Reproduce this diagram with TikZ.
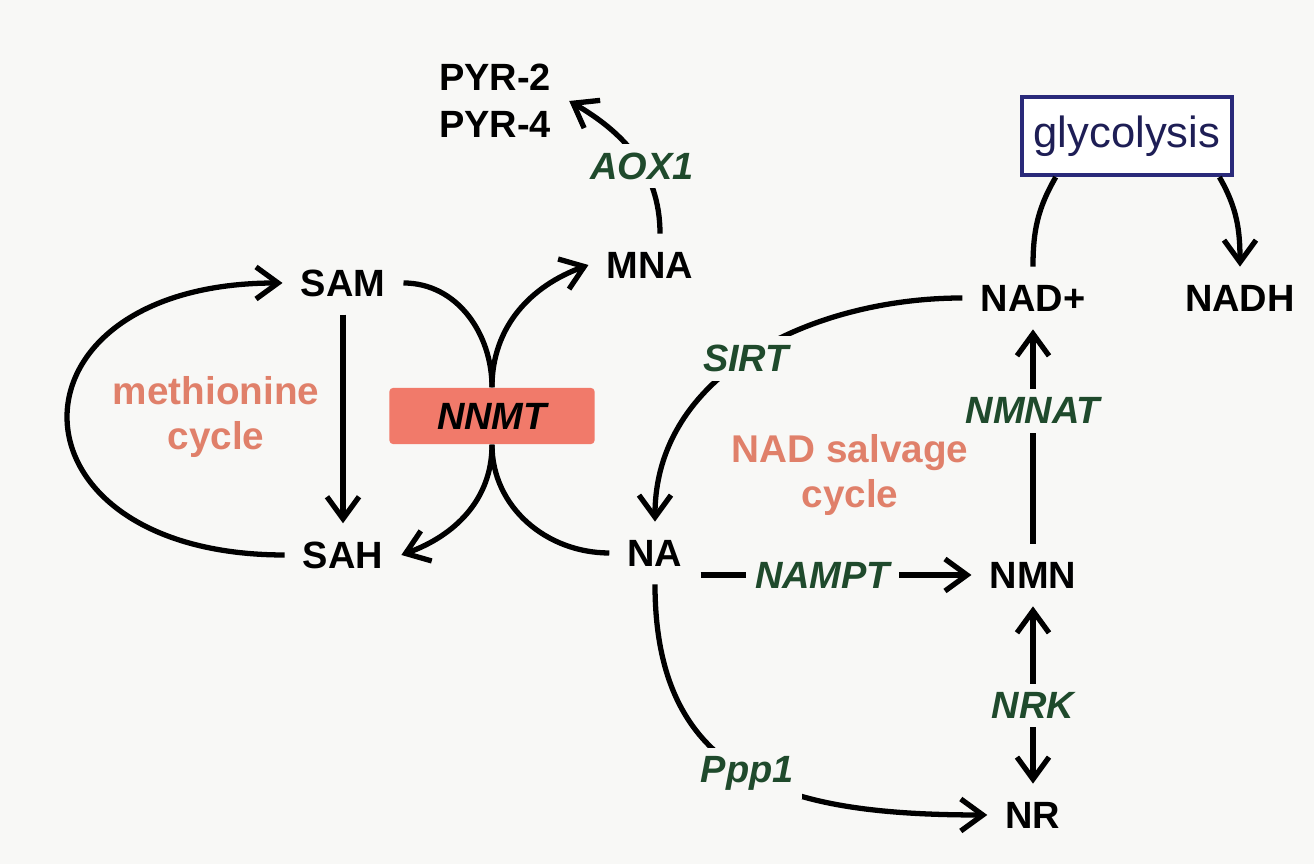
\documentclass[tikz,border=0pt]{standalone}
\usepackage{fontspec}
\setmainfont{Liberation Sans}
\usepackage{xcolor}
\usepackage{tikz}
\usetikzlibrary{arrows.meta}
\definecolor{bgcol}{HTML}{F8F8F6}
\definecolor{enzgreen}{HTML}{1F4A2C}
\definecolor{cycsalmon}{HTML}{E0806A}
\definecolor{nnmtred}{HTML}{F17A6A}
\definecolor{glycblue}{HTML}{2A2A7A}
\definecolor{glyctext}{HTML}{1E1E55}
\tikzstyle{met} = [font=\fontsize{10.8}{13.4}\selectfont\bfseries, inner sep=5pt, align=center]
\tikzstyle{enz} = [font=\fontsize{10.8}{13.4}\selectfont\bfseries\itshape, text=enzgreen, fill=bgcol, inner sep=2.5pt]
\tikzstyle{cyc} = [font=\fontsize{11}{12.8}\selectfont\bfseries, text=cycsalmon, align=center]
\tikzstyle{nnmtbox} = [rectangle, rounded corners=1pt, fill=nnmtred, minimum width=2.05cm, minimum height=0.56cm, font=\fontsize{10.8}{13.4}\selectfont\bfseries\itshape]
\tikzstyle{glycbox} = [rectangle, draw=glycblue, line width=1.2pt, fill=white, text=glyctext, minimum width=1.95cm, minimum height=0.78cm, font=\fontsize{12.4}{14}\selectfont]
\tikzstyle{link} = [line width=1.5pt]
\tikzstyle{arr} = [-{Straight Barb[length=2.2mm,width=3.2mm]}, line width=1.5pt]
\tikzstyle{arrboth} = [{Straight Barb[length=2.2mm,width=3.2mm]}-{Straight Barb[length=2.2mm,width=3.2mm]}, line width=1.5pt]

\begin{document}
\begin{tikzpicture}[x=0.01cm, y=0.01cm]
  \useasboundingbox (0,0) rectangle (1314,864);
  \fill[bgcol] (0,0) rectangle (1314,864);
  % methionine side
  \node[met] (pyr) at (495,763) {PYR-2\\PYR-4};
  \node[met] (mna) at (650,599) {MNA};
  \node[met] (sam) at (343,581) {SAM};
  \node[met] (sah) at (343,309) {SAH};
  \node[cyc] (meth) at (216,447) {methionine\\cycle};
  \node[nnmtbox] (nnmt) at (492,448) {NNMT};
  % salvage side
  \node[met] (na) at (655,311) {NA};
  \node[met] (nmn) at (1033,289) {NMN};
  \node[met] (nad) at (1033,566) {NAD+};
  \node[met] (nadh) at (1240,566) {NADH};
  \node[met] (nr) at (1033,49) {NR};
  \node[cyc] (salv) at (850,389) {NAD salvage\\cycle};
  \node[glycbox] (glyc) at (1127,728) {glycolysis};
  % methionine cycle
  \draw[arr] (sam.south) -- (sah.north);
  \draw[arr] (sah.west) to[out=180,in=180,looseness=2.7] (sam.west);
  % NNMT crossing
  \draw[link] (sam.east) to[out=0,in=90] (nnmt.north);
  \draw[arr] (nnmt.north) to[out=90,in=200] (mna.west);
  \draw[link] (na.west) to[out=180,in=-90] (nnmt.south);
  \draw[arr] (nnmt.south) to[out=-90,in=20] (sah.east);
  \draw[arr] ([xshift=0.1cm]mna.north) to[out=90,in=-30] node[enz, pos=0.42] {AOX1} (pyr.east);
  % NAD salvage cycle
  \draw[arr] (nad.west) to[out=180,in=90] node[enz, pos=0.52] {SIRT} (na.north);
  \draw[arr] (na.east |- nmn.west) -- node[enz, pos=0.45] {NAMPT} (nmn.west);
  \draw[arr] (nmn.north) -- node[enz, pos=0.62] {NMNAT} (nad.south);
  \draw[arrboth] (nr.north) -- node[enz, pos=0.44] {NRK} (nmn.south);
  \draw[arr] (na.south) to[out=-90,in=180,looseness=1.25] node[enz] {Ppp1} (nr.west);
  % glycolysis
  \draw[link] (nad.north) to[out=90,in=240] (glyc.210);
  \draw[arr] (glyc.-24) to[out=-60,in=90] (nadh.north);
\end{tikzpicture}
\end{document}
